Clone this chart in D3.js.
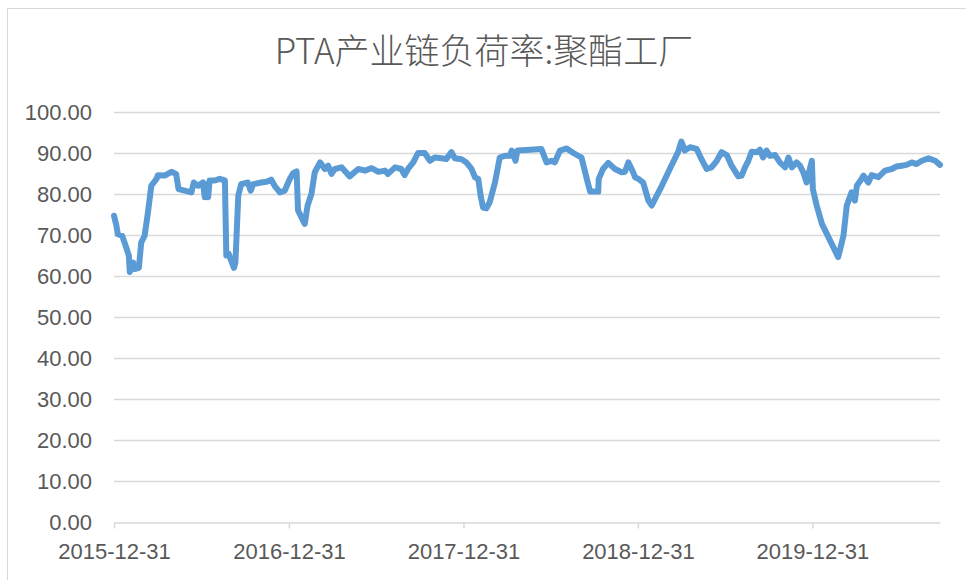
<!DOCTYPE html>
<html>
<head>
<meta charset="utf-8">
<script src="https://cdn.jsdelivr.net/npm/d3@7"></script>
<style>
  body { margin: 0; background: #fff; }
  svg { display: block; }
</style>
</head>
<body>
<script>
// Chart values
var title = "PTA产业链负荷率:聚酯工厂";

var dates = [
  "2015-12-31","2016-01-05","2016-01-08","2016-01-17","2016-01-22","2016-01-31","2016-02-02","2016-02-09","2016-02-12","2016-02-21",
  "2016-02-26","2016-03-04","2016-03-11","2016-03-18","2016-03-29","2016-04-01","2016-04-15","2016-04-29","2016-05-09","2016-05-14",
  "2016-05-27","2016-06-10","2016-06-15","2016-06-24","2016-07-04","2016-07-08","2016-07-11","2016-07-15","2016-07-18","2016-07-29",
  "2016-08-08","2016-08-19","2016-08-22","2016-08-27","2016-08-31","2016-09-07","2016-09-10","2016-09-16","2016-09-22","2016-10-06",
  "2016-10-12","2016-10-17","2016-11-03","2016-11-14","2016-11-24","2016-12-01","2016-12-12","2016-12-22",
  "2017-01-02","2017-01-09","2017-01-16","2017-01-19","2017-02-02","2017-02-08","2017-02-16","2017-02-23","2017-03-06","2017-03-09",
  "2017-03-16","2017-03-23","2017-03-30","2017-04-06","2017-04-20","2017-05-07","2017-05-25","2017-06-08","2017-06-22","2017-07-06",
  "2017-07-20","2017-07-26","2017-08-10","2017-08-23","2017-08-30","2017-09-06","2017-09-17","2017-09-27","2017-10-11","2017-10-22",
  "2017-11-01","2017-11-15","2017-11-25","2017-12-06","2017-12-13","2017-12-27",
  "2018-01-06","2018-01-17","2018-01-24","2018-01-31","2018-02-05","2018-02-10","2018-02-17","2018-02-24","2018-03-07","2018-03-17",
  "2018-03-28","2018-04-07","2018-04-11","2018-04-19","2018-04-23","2018-05-20","2018-06-12","2018-06-23","2018-07-03","2018-07-10",
  "2018-07-21","2018-08-04","2018-08-18","2018-09-04","2018-09-15","2018-09-22","2018-10-09","2018-10-10","2018-10-19","2018-10-30",
  "2018-11-13","2018-11-27","2018-12-04","2018-12-11","2018-12-21","2018-12-25",
  "2019-01-01","2019-01-11","2019-01-15","2019-01-22","2019-01-29","2019-02-19","2019-03-11","2019-03-25","2019-04-01","2019-04-08",
  "2019-04-19","2019-05-03","2019-05-13","2019-05-24","2019-06-03","2019-06-14","2019-06-24","2019-07-05","2019-07-15","2019-07-29",
  "2019-08-05","2019-08-12","2019-08-19","2019-08-26","2019-09-06","2019-09-12","2019-09-19","2019-09-26","2019-10-03","2019-10-14",
  "2019-10-24","2019-11-04","2019-11-11","2019-11-18","2019-11-28","2019-12-05","2019-12-12","2019-12-19","2019-12-24","2019-12-30",
  "2020-01-01","2020-01-09","2020-01-20","2020-02-23","2020-03-05","2020-03-12","2020-03-22","2020-03-29","2020-04-02","2020-04-12",
  "2020-04-16","2020-04-26","2020-05-03","2020-05-17","2020-05-31","2020-06-14","2020-06-24","2020-07-05","2020-07-15","2020-07-26",
  "2020-08-05","2020-08-16","2020-08-30","2020-09-13","2020-09-23"
];

var values = [
  74.7, 72.3, 70.2, 69.8, 68.2, 65.0, 61.0, 63.3, 61.7, 62.0,
  68.2, 69.8, 75.5, 82.0, 83.7, 84.6, 84.5, 85.4, 84.9, 81.2,
  80.8, 80.4, 82.8, 82.0, 82.8, 79.2, 82.4, 79.2, 83.3, 83.3,
  83.7, 83.3, 65.0, 65.4, 64.1, 62.0, 63.3, 79.6, 82.4, 82.8,
  80.8, 82.4, 82.8, 83.0, 83.5, 82.0, 80.4, 80.8,
  83.7, 85.1, 85.5, 76.0, 72.7, 77.2, 80.0, 85.3, 87.7, 87.3,
  86.1, 86.9, 84.9, 86.1, 86.5, 84.3, 86.1, 85.7, 86.3, 85.4,
  85.7, 84.9, 86.5, 86.1, 84.6, 86.1, 87.7, 90.0, 90.0, 88.1,
  88.9, 88.7, 88.5, 90.2, 88.7, 88.5,
  87.7, 86.1, 84.1, 83.7, 79.6, 76.7, 76.5, 78.0, 82.8, 88.9,
  89.3, 89.3, 90.6, 88.1, 90.6, 90.8, 91.0, 87.7, 88.1, 87.7,
  90.6, 91.1, 90.0, 88.9, 83.7, 80.6, 80.6, 83.7, 86.1, 87.6,
  86.1, 85.3, 85.4, 87.7, 85.3, 84.1,
  83.7, 82.8, 81.2, 78.4, 77.2, 82.0, 86.9, 90.2, 92.8, 90.6,
  91.4, 91.0, 88.5, 86.1, 86.5, 88.1, 90.2, 89.5, 86.9, 84.3,
  84.5, 86.5, 88.1, 90.3, 90.2, 90.8, 88.9, 90.6, 89.3, 89.5,
  87.7, 86.5, 88.9, 86.5, 87.7, 86.9, 85.3, 82.8, 85.3, 88.1,
  81.2, 77.2, 72.7, 64.6, 69.8, 77.2, 80.4, 78.4, 82.0, 83.7,
  84.5, 82.8, 84.6, 84.1, 85.7, 86.1, 86.7, 86.9, 87.1, 87.7,
  87.3, 88.1, 88.7, 88.1, 87.1
];

var yTicks = [0, 10, 20, 30, 40, 50, 60, 70, 80, 90, 100];
var xTicks = ["2015-12-31", "2016-12-31", "2017-12-31", "2018-12-31", "2019-12-31"];

var width = 966,
    height = 580;

var margin = { top: 112, right: 26, bottom: 58, left: 114 };

var parseDate = d3.timeParse("%Y-%m-%d");

var points = dates.map(function(d, i) {
    return { date: parseDate(d), value: values[i] };
});

var svg = d3.select("body").append("svg")
    .attr("width", width)
    .attr("height", height);

// chart frame
svg.append("rect")
    .attr("x", 7.5)
    .attr("y", 8.5)
    .attr("width", width)
    .attr("height", height)
    .attr("fill", "none")
    .attr("stroke", "#d9d9d9");

var x = d3.scaleTime()
    .domain(d3.extent(points, function(d) { return d.date; }))
    .range([margin.left, width - margin.right]);

var y = d3.scaleLinear()
    .domain([0, 100])
    .range([height - margin.bottom, margin.top]);

// title
svg.append("text")
    .attr("x", 484)
    .attr("y", 64)
    .attr("text-anchor", "middle")
    .style("font-family", "'Noto Sans CJK SC', 'Liberation Sans', sans-serif")
    .style("font-weight", 300)
    .style("font-size", "35px")
    .style("fill", "#595959")
    .text(title);

// gridlines
svg.append("g")
    .attr("class", "grid")
    .selectAll("line")
    .data(yTicks.filter(function(t) { return t > 0; }))
    .enter().append("line")
    .attr("x1", x.range()[0])
    .attr("x2", x.range()[1])
    .attr("y1", function(d) { return Math.round(y(d)) + 0.5; })
    .attr("y2", function(d) { return Math.round(y(d)) + 0.5; })
    .attr("stroke", "#d9d9d9")
    .attr("stroke-width", 1.5);

// y axis labels
var yAxis = svg.append("g")
    .attr("transform", "translate(" + margin.left + ",0)")
    .call(d3.axisLeft(y).tickValues(yTicks).tickSize(0).tickPadding(22).tickFormat(d3.format(".2f")));
yAxis.select(".domain").remove();

// x axis
var xAxis = svg.append("g")
    .attr("transform", "translate(0," + (Math.round(y(0)) + 0.5) + ")")
    .call(d3.axisBottom(x)
        .tickValues(xTicks.map(parseDate))
        .tickSize(6)
        .tickPadding(15)
        .tickSizeOuter(0)
        .tickFormat(d3.timeFormat("%Y-%m-%d")));
xAxis.select(".domain").attr("stroke", "#d9d9d9").attr("stroke-width", 1.5);
xAxis.selectAll(".tick line").attr("stroke", "#d9d9d9").attr("stroke-width", 1.5);

svg.selectAll(".tick text")
    .style("font-family", "'Liberation Sans', Arial, sans-serif")
    .style("font-size", "22px")
    .style("fill", "#595959");

// the series line
var line = d3.line()
    .x(function(d) { return x(d.date); })
    .y(function(d) { return y(d.value); });

svg.append("path")
    .datum(points)
    .attr("d", line)
    .attr("fill", "none")
    .attr("stroke", "#5b9bd5")
    .attr("stroke-width", 6)
    .attr("stroke-linejoin", "round")
    .attr("stroke-linecap", "round");
</script>
</body>
</html>
